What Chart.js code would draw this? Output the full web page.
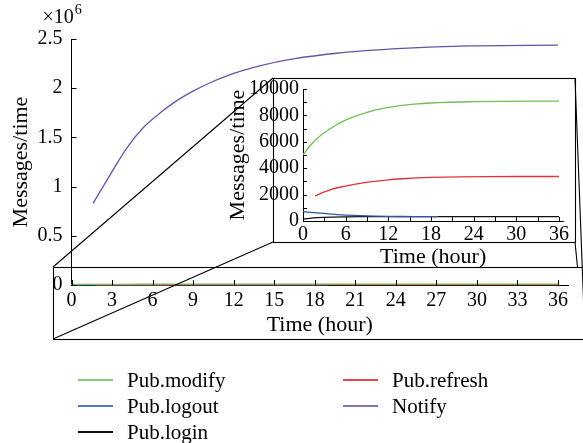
<!DOCTYPE html>
<html>
<head>
<meta charset="utf-8">
<script src="https://cdn.jsdelivr.net/npm/chart.js@4.4.1/dist/chart.umd.min.js"></script>
<style>
  body { margin: 0; background: #fff; }
  #wrap { position: relative; width: 583px; height: 443px; font-family: "Liberation Serif", "Times New Roman", serif; }
  #main { position: absolute; left: 0; top: 0; }
  #inset { position: absolute; left: 220px; top: 70px; }
  .legItem { position: absolute; height: 24px; font-size: 21px; line-height: 24px; white-space: nowrap; }
  .legLine { position: absolute; left: 0; top: 11px; width: 35px; height: 2px; }
  .legText { position: absolute; left: 49px; top: 0; }
</style>
</head>
<body>
<div id="wrap">
  <canvas id="main" width="583" height="443" style="width:583px;height:443px"></canvas>
  <canvas id="inset" width="363" height="200" style="width:363px;height:200px"></canvas>
  <div id="legend"></div>
</div>
<script>
// values (hours / messages per time)
const modifyHours = [0, 1, 2, 3, 4, 5, 6, 8, 10, 12, 14, 16, 18, 20, 24, 28, 32, 36];
const modifyValues = [5000, 5700, 6250, 6700, 7050, 7380, 7640, 8060, 8380, 8600, 8760, 8870, 8940, 8990, 9040, 9070, 9080, 9080];

const refreshHours = [1.7, 3, 4, 6, 8, 10, 12, 14, 16, 18, 22, 26, 30, 36];
const refreshValues = [1900, 2200, 2400, 2650, 2850, 3000, 3120, 3200, 3260, 3300, 3340, 3360, 3370, 3370];

const logoutHours = [0, 2, 4, 6, 8, 10, 12, 14, 16, 19];
const logoutValues = [700, 620, 520, 450, 400, 370, 350, 340, 335, 330];

const loginHours = [0, 2, 4, 6, 8, 36];
const loginValues = [150, 250, 300, 320, 330, 330];

const notifyHours = [1.6, 2.9, 4.1, 5.3, 6.6, 7.8, 9, 10.3, 11.5, 12.7, 14, 16.4, 19.6, 24.5, 29.5, 36];
const notifyValues = [830000, 1130000, 1394000, 1598000, 1754000, 1874000, 1970000, 2058000, 2125000, 2180000, 2230000, 2297000, 2355000, 2404000, 2430000, 2437000];

const seriesColors = {
  'Pub.modify': '#72bf5a',
  'Pub.refresh': '#e0353a',
  'Pub.logout': '#3452a6',
  'Pub.login': '#111111',
  'Notify': '#6a52a8'
};
const legendColors = {
  'Pub.modify': '#86cc74',
  'Pub.refresh': '#e5484c',
  'Pub.logout': '#5a76bb',
  'Pub.login': '#111111',
  'Notify': '#8a72b6'
};
const legendColumns = [['Pub.modify', 'Pub.logout', 'Pub.login'], ['Pub.refresh', 'Notify']];

const mainXTicks = 3;
const mainYTicks = 500000;
const insetXTicks = 6;
const insetYTicks = 2000;

Chart.defaults.font.family = '"Liberation Serif", "Times New Roman", serif';
Chart.defaults.font.size = 20;
Chart.defaults.color = '#000';

function points(hours, values) {
  return hours.map((h, i) => ({ x: h, y: values[i] }));
}

function lineSet(label, hours, values) {
  return {
    label: label,
    data: points(hours, values),
    borderColor: seriesColors[label],
    borderWidth: 1.3,
    pointRadius: 0,
    fill: false,
    cubicInterpolationMode: 'monotone',
    clip: false
  };
}

function allSets() {
  return [
    lineSet('Pub.modify', modifyHours, modifyValues),
    lineSet('Pub.refresh', refreshHours, refreshValues),
    lineSet('Pub.logout', logoutHours, logoutValues),
    lineSet('Pub.login', loginHours, loginValues),
    lineSet('Notify', notifyHours, notifyValues)
  ];
}

// tick marks pointing into the plot, like the original
const innerTicks = {
  id: 'innerTicks',
  afterDraw(chart, args, opts) {
    const ctx = chart.ctx;
    const xs = chart.scales.x, ys = chart.scales.y;
    ctx.save();
    ctx.strokeStyle = '#000';
    ctx.lineWidth = 1;
    ctx.beginPath();
    const markX = (v, len) => {
      const px = Math.round(xs.getPixelForValue(v)) + 0.5;
      ctx.moveTo(px, xs.top); ctx.lineTo(px, xs.top - len);
    };
    const markY = (v, len) => {
      const py = Math.round(ys.getPixelForValue(v)) + 0.5;
      ctx.moveTo(ys.right, py); ctx.lineTo(ys.right + len, py);
    };
    xs.ticks.forEach(t => markX(t.value, opts.len));
    ys.ticks.forEach(t => markY(t.value, opts.len));
    if (opts.minorX) {
      for (let v = opts.minorX; v < xs.max; v += opts.minorX * 2) markX(v, opts.minorLen);
    }
    if (opts.minorY) {
      for (let v = opts.minorY; v < ys.max; v += opts.minorY * 2) markY(v, opts.minorLen);
    }
    ctx.stroke();
    ctx.restore();
  }
};

// inset frame, zoom box and connecting lines, plus the x10^6 factor
const insetBox = { left: 273, top: 78, right: 575, bottom: 242 };
const zoomBox = { left: 53, top: 267, right: 600, bottom: 339 };
const decorations = {
  id: 'decorations',
  beforeDatasetsDraw(chart) {
    const ctx = chart.ctx;
    ctx.save();
    ctx.fillStyle = '#fff';
    ctx.fillRect(insetBox.left, insetBox.top, insetBox.right - insetBox.left, insetBox.bottom - insetBox.top);
    ctx.restore();
  },
  afterDraw(chart) {
    const ctx = chart.ctx;
    const ca = chart.chartArea;
    ctx.save();
    ctx.strokeStyle = '#000';
    ctx.lineWidth = 1.1;
    ctx.strokeRect(insetBox.left + 0.5, insetBox.top + 0.5, insetBox.right - insetBox.left, insetBox.bottom - insetBox.top);
    ctx.strokeRect(zoomBox.left + 0.5, zoomBox.top + 0.5, zoomBox.right - zoomBox.left, zoomBox.bottom - zoomBox.top);
    ctx.beginPath();
    ctx.moveTo(insetBox.left, insetBox.top); ctx.lineTo(zoomBox.left, zoomBox.top);
    ctx.moveTo(insetBox.left, insetBox.bottom); ctx.lineTo(zoomBox.left, zoomBox.bottom);
    ctx.moveTo(insetBox.right, insetBox.top); ctx.lineTo(insetBox.right + 10, zoomBox.bottom);
    ctx.moveTo(insetBox.right, insetBox.bottom); ctx.lineTo(insetBox.right + 2.5, zoomBox.top);
    ctx.stroke();

    ctx.fillStyle = '#000';
    ctx.textBaseline = 'alphabetic';
    ctx.font = '20px "Liberation Serif", serif';
    const x0 = ca.left - 29;
    ctx.fillText('\u00d710', x0, 23);
    const w = ctx.measureText('\u00d710').width;
    ctx.font = '14px "Liberation Serif", serif';
    ctx.fillText('6', x0 + w + 1, 14);
    ctx.restore();
  }
};

const titleFont = { size: 22 };

function axisX(max, step, height, labelPad, titlePad) {
  return {
    type: 'linear', min: 0, max: max,
    afterFit: s => { s.height = height; },
    ticks: { stepSize: step, includeBounds: false, padding: labelPad, maxRotation: 0, autoSkip: false },
    grid: { drawOnChartArea: false, drawTicks: false },
    border: { color: '#000', width: 1 },
    title: { display: true, text: 'Time (hour)', font: titleFont, padding: { top: 0, bottom: titlePad } }
  };
}

function axisY(max, step, width, labelPad, titlePad, fmt) {
  return {
    min: 0, max: max,
    afterFit: s => { s.width = width; },
    ticks: { stepSize: step, includeBounds: false, padding: labelPad, autoSkip: false, callback: fmt },
    grid: { drawOnChartArea: false, drawTicks: false },
    border: { color: '#000', width: 1 },
    title: { display: true, text: 'Messages/time', font: titleFont, padding: { top: titlePad, bottom: 0 } }
  };
}

new Chart(document.getElementById('main'), {
  type: 'line',
  data: { datasets: allSets() },
  options: {
    responsive: false,
    animation: false,
    layout: { padding: { top: 39, left: 0, right: 15, bottom: 98 } },
    plugins: {
      legend: { display: false },
      tooltip: { enabled: false },
      innerTicks: { len: 5 }
    },
    scales: {
      x: axisX(36.74, mainXTicks, 60, 4, 7),
      y: axisY(2500000, mainYTicks, 71.5, 9, 8, v => v / 1000000)
    }
  },
  plugins: [decorations, innerTicks]
});

new Chart(document.getElementById('inset'), {
  type: 'line',
  data: { datasets: allSets().slice(0, 4) },
  options: {
    responsive: false,
    animation: false,
    layout: { padding: { top: 19, left: 0, right: 19.7, bottom: 0 } },
    plugins: {
      legend: { display: false },
      tooltip: { enabled: false },
      innerTicks: { len: 4, minorLen: 4, minorX: 3, minorY: 1000 }
    },
    scales: {
      x: axisX(36.6, insetXTicks, 49, 2, 0),
      y: axisY(10000, insetYTicks, 83, 4, 5, v => v)
    }
  },
  plugins: [innerTicks]
});

// legend laid out in two columns like the figure
const legend = document.getElementById('legend');
legendColumns.forEach((col, c) => {
  col.forEach((name, r) => {
    const item = document.createElement('div');
    item.className = 'legItem';
    item.style.left = (78 + c * 265) + 'px';
    item.style.top = (368 + r * 26) + 'px';
    const line = document.createElement('div');
    line.className = 'legLine';
    line.style.background = legendColors[name];
    const text = document.createElement('div');
    text.className = 'legText';
    text.textContent = name;
    item.appendChild(line);
    item.appendChild(text);
    legend.appendChild(item);
  });
});
</script>
</body>
</html>
